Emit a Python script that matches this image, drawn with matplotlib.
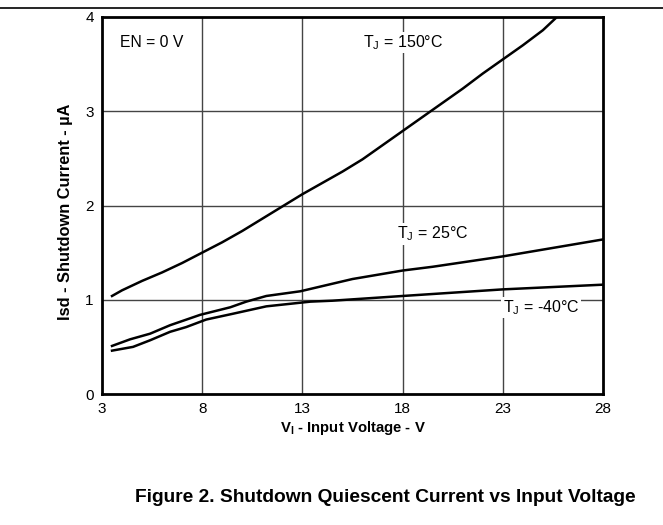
import matplotlib
matplotlib.use('Agg')
import matplotlib.pyplot as plt
from matplotlib.lines import Line2D

plt.rcParams['font.family'] = ['Liberation Sans', 'DejaVu Sans']

# T_J = 150 C
v_150 = [3.5, 4, 5, 6, 7, 8, 9, 10, 11, 12, 13, 14, 15, 16, 17, 18, 19, 20, 21, 22, 23, 24, 25, 25.7]
i_150 = [1.04, 1.10, 1.20, 1.29, 1.39, 1.50, 1.61, 1.73, 1.86, 1.99, 2.12, 2.24, 2.36, 2.49, 2.64, 2.79, 2.94, 3.09, 3.24, 3.40, 3.55, 3.70, 3.86, 4.0]

# T_J = 25 C
v_25 = [3.5, 4.4, 5.4, 6.4, 7.9, 9.4, 10.2, 11.2, 12.9, 14.5, 15.5, 18, 19.5, 23, 28]
i_25 = [0.51, 0.58, 0.64, 0.73, 0.84, 0.92, 0.98, 1.04, 1.09, 1.17, 1.22, 1.31, 1.35, 1.46, 1.64]

# T_J = -40 C
v_m40 = [3.5, 4.55, 5.4, 6.4, 7.2, 8.2, 9.5, 11.2, 13.4, 14.5, 18, 23, 28]
i_m40 = [0.46, 0.50, 0.57, 0.66, 0.71, 0.79, 0.85, 0.93, 0.98, 0.99, 1.04, 1.11, 1.16]

xticks = [3, 8, 13, 18, 23, 28]
yticks = [0, 1, 2, 3, 4]

fig = plt.figure(figsize=(6.63, 5.25), dpi=100)
ax = fig.add_axes([102 / 663, 1 - 394 / 525, 501 / 663, 377 / 525])

for x in xticks[1:-1]:
    ax.axvline(x, color='#444444', linewidth=1.0, zorder=1)
for y in yticks[1:-1]:
    ax.axhline(y, color='#444444', linewidth=1.0, zorder=1)

for v, i in [(v_150, i_150), (v_25, i_25), (v_m40, i_m40)]:
    ax.plot(v, i, color='black', linewidth=1.8, zorder=3)

ax.set_xlim(3, 28)
ax.set_ylim(0, 4)
ax.set_xticks(xticks)
ax.set_yticks(yticks)
ax.tick_params(length=0, labelsize=11, pad=6)
for s in ax.spines.values():
    s.set_linewidth(2.0)

bbox = dict(facecolor='white', edgecolor='none', pad=1)
ax.text(3.9, 3.73, 'EN = 0 V', fontsize=11.3, va='center', ha='left', bbox=bbox, zorder=4)
ax.text(16.0, 3.73, r'T$_\mathregular{J}$ = 150°C', fontsize=11.5, va='center', ha='left', bbox=bbox, zorder=4)
ax.text(17.7, 1.70, r'T$_\mathregular{J}$ = 25°C', fontsize=11.5, va='center', ha='left', bbox=bbox, zorder=4)
ax.text(23.0, 0.92, r'T$_\mathregular{J}$ = -40°C', fontsize=11.5, va='center', ha='left', bbox=bbox, zorder=4)

ax.set_xlabel(r'V$_\mathregular{I}$ - Input Voltage - V', fontsize=10.7, fontweight='bold', labelpad=2)
ax.set_ylabel('Isd - Shutdown Current - µA', fontsize=11.8, fontweight='bold')
ax.yaxis.set_label_coords(-0.058, 0.484)

fig.add_artist(Line2D([0, 1], [1 - 8 / 525, 1 - 8 / 525], color='black', linewidth=1.2))
fig.text(385 / 663, 1 - 497 / 525, 'Figure 2. Shutdown Quiescent Current vs Input Voltage',
         fontsize=13.8, fontweight='bold', ha='center', va='center')

fig.savefig('out.png', dpi=100)
